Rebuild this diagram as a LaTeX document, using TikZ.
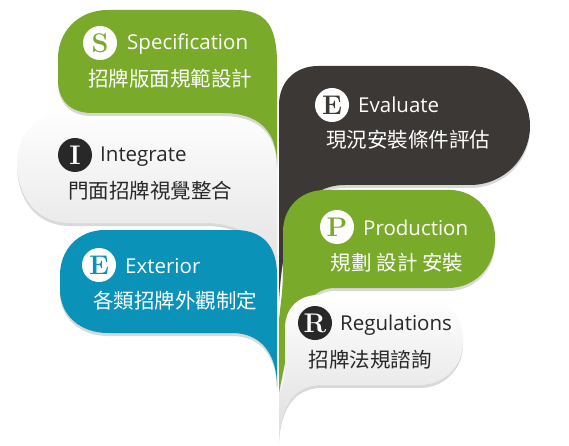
\documentclass[tikz,border=0pt]{standalone}
\usepackage{fontspec}
\newfontfamily\latin{Open Sans}
\newfontfamily\cjk{Noto Sans CJK TC}
\usetikzlibrary{shadows}
\definecolor{leafgreen}{RGB}{122,170,42}
\definecolor{leafblue}{RGB}{11,146,185}
\definecolor{leafdark}{RGB}{59,56,54}
\definecolor{inkdark}{RGB}{40,40,40}
\begin{document}
\begin{tikzpicture}[x=1pt,y=-1pt]
\tikzstyle{every node}+=[inner sep=0pt]
\tikzstyle{leaf}=[drop shadow={opacity=0.3,shadow xshift=0pt,shadow yshift=-3pt}]
\tikzstyle{badge}=[circle,minimum size=34pt,font=\rmfamily\bfseries\fontsize{27}{27}\selectfont]
\tikzstyle{title}=[anchor=base west,font=\latin\fontsize{20.5}{20.5}\selectfont]
\tikzstyle{caption}=[font=\cjk\fontsize{20.5}{20.5}\selectfont]
\useasboundingbox (0,0) rectangle (569,446);
\shade [leaf,top color=white,bottom color=black!13] (277,300) -- (277,105) -- (90,105) .. controls (45,105) and (17,130) .. (17,162) .. controls (17,195) and (35,223) .. (70,223) -- (205,223) .. controls (250,223) and (277,250) .. (277,300) -- cycle;
\fill [leaf,leafgreen] (277,165) -- (277,65) .. controls (277,28) and (268,10) .. (235,10) -- (108,10) .. controls (78,10) and (58,32) .. (58,58) -- (58,80) .. controls (58,100) and (70,113) .. (92,113) -- (222,113) .. controls (258,113) and (277,130) .. (277,165) -- cycle;
\fill [leaf,leafblue] (277,387) -- (277,275) .. controls (277,245) and (262,230) .. (235,230) -- (105,230) .. controls (78,230) and (60,250) .. (60,275) -- (60,290) .. controls (60,315) and (80,333) .. (108,333) -- (232,333) .. controls (262,333) and (277,355) .. (277,387) -- cycle;
\fill [leaf,leafdark] (279,300) -- (279,105) .. controls (279,82) and (295,66) .. (318,66) -- (470,66) .. controls (504,66) and (530,94) .. (530,126) .. controls (530,158) and (504,185) .. (470,185) -- (345,185) .. controls (300,185) and (283,230) .. (279,300) -- cycle;
\fill [leaf,leafgreen] (279,392) -- (279,320) .. controls (281,300) and (283,290) .. (283,270) -- (283,232) .. controls (283,208) and (300,190) .. (325,190) -- (450,190) .. controls (475,190) and (495,212) .. (495,238) -- (495,240) .. controls (495,267) and (475,288) .. (448,288) -- (335,288) .. controls (295,288) and (288,350) .. (279,392) -- cycle;
\shade [leaf,top color=white,bottom color=black!13] (279,440) -- (279,400) .. controls (279,390) and (285,382) .. (285,372) -- (285,328) .. controls (285,309) and (298,295) .. (318,295) -- (420,295) .. controls (444,295) and (463,315) .. (463,338) -- (463,342) .. controls (463,366) and (444,385) .. (420,385) -- (322,385) .. controls (295,385) and (281,405) .. (279,440) -- cycle;
\node [badge,fill=white,text=leafgreen] (sBadge) at (100,43) {S};
\node [title,text=white] (sTitle) at (127,50) {Specification};
\node [caption,text=white] (sCaption) at (170,79) {招牌版面規範設計};
\node [badge,fill=inkdark,text=white] (iBadge) at (75,155) {I};
\node [title,text=inkdark] (iTitle) at (100,162) {Integrate};
\node [caption,text=inkdark] (iCaption) at (150,191) {門面招牌視覺整合};
\node [badge,fill=white,text=leafblue] (eBadge) at (99,265) {E};
\node [title,text=white] (eTitle) at (125,273) {Exterior};
\node [caption,text=white] (eCaption) at (175,301) {各類招牌外觀制定};
\node [badge,fill=white,text=leafdark] (vBadge) at (332,105) {E};
\node [title,text=white] (vTitle) at (358,113) {Evaluate};
\node [caption,text=white] (vCaption) at (408,140) {現況安裝條件評估};
\node [badge,fill=white,text=leafgreen] (pBadge) at (337,227) {P};
\node [title,text=white] (pTitle) at (363,235) {Production};
\node [caption,text=white] (pCaption) at (397,263) {規劃 設計 安裝};
\node [badge,fill=inkdark,text=white] (rBadge) at (315,323) {R};
\node [title,text=inkdark] (rTitle) at (340,330) {Regulations};
\node [caption,text=inkdark] (rCaption) at (370,360) {招牌法規諮詢};
\end{tikzpicture}
\end{document}
